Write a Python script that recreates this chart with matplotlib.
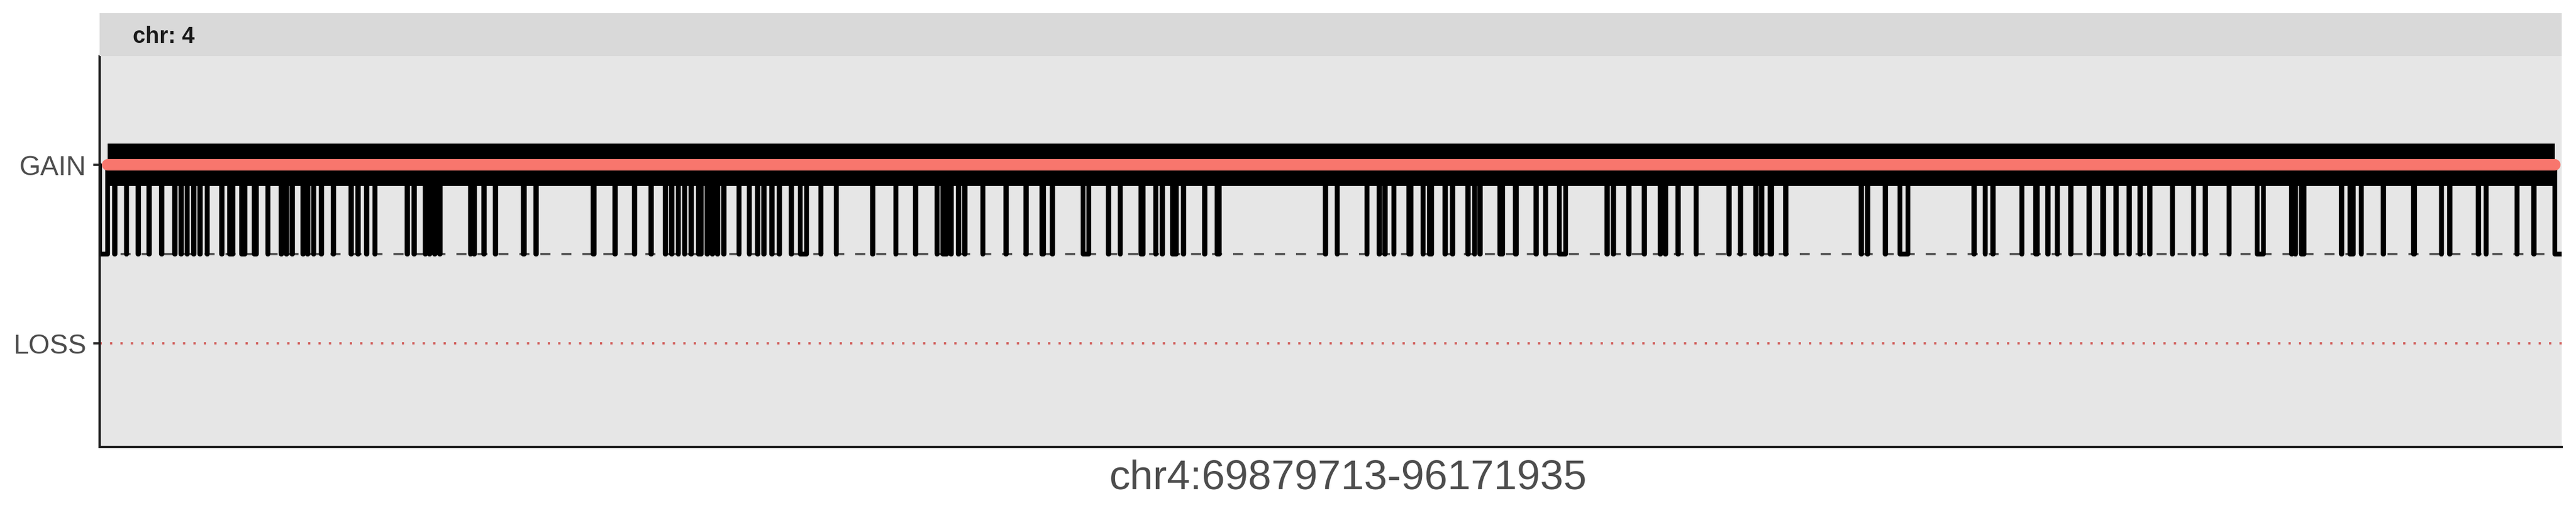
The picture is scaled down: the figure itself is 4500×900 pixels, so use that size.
import matplotlib
matplotlib.use("Agg")
import matplotlib.pyplot as plt

plt.rcParams['font.family'] = ['Liberation Sans', 'DejaVu Sans']

# region shown (bp)
region_start = 69879713
region_end = 96171935
chrom_label = "chr: 4"
region_label = "chr4:69879713-96171935"

# y categories
y_labels = ["LOSS", "GAIN"]
y_values = [1, 2]
baseline_y = 1.5

# short breaks in the GAIN call (Mb, centre), width thin_gap_kb
thin_gap_kb = 3
thin_gap_mb = [
    70.039, 70.167, 70.290, 70.406, 70.540, 70.681, 70.748, 70.815, 70.883, 70.950,
    71.029, 71.182, 71.677, 71.818, 71.873, 71.934, 72.050, 72.099, 72.166, 72.246,
    72.374, 72.564, 72.637, 72.729, 72.820, 73.163, 73.236, 73.358, 73.401, 73.456,
    73.511, 73.841, 73.878, 73.982, 74.104, 74.538, 75.382, 75.590, 75.767, 75.920,
    75.987, 76.060, 76.127, 76.195, 76.366, 76.421, 76.476, 76.543, 76.708, 76.818,
    76.904, 76.971, 77.057, 77.136, 77.265, 77.582, 77.747, 78.133, 78.383, 78.591,
    78.823, 78.970, 79.050, 79.117, 79.312, 79.557, 79.771, 80.052, 80.651, 80.779,
    81.158, 81.226, 81.452, 81.678, 82.968, 83.096, 83.414, 83.543, 83.604, 83.701,
    84.013, 84.246, 84.325, 84.490, 84.563, 84.619, 85.218, 85.321, 85.976, 86.043,
    86.208, 86.373, 86.544, 86.599, 86.734, 86.929, 87.278, 87.400, 87.565, 87.626,
    87.883, 88.690, 88.757, 88.947, 89.894, 90.016, 90.096, 90.407, 90.683, 90.786,
    90.927, 91.123, 91.410, 91.551, 91.667, 91.771, 92.015, 92.241, 92.364, 92.620,
    93.287, 93.329, 93.819, 94.032, 94.265, 94.888, 94.974, 95.280, 95.362, 95.695,
    95.873,
]

# longer breaks (start in Mb, length in kb)
wide_gap_start_mb = [
    69.8797, 71.270, 71.393, 71.533, 74.406, 75.152, 76.271, 77.365, 78.887, 79.939,
    80.379, 81.002, 81.338, 81.815, 83.863, 84.083, 84.830, 85.000, 85.471, 87.715,
    89.108, 90.551, 91.272, 92.917, 93.393, 93.913, 94.591, 96.099,
]
wide_gap_kb = [
    86, 31, 37, 24, 12, 12, 31, 67, 37, 24,
    67, 24, 43, 24, 24, 24, 31, 12, 67, 18,
    85, 24, 12, 73, 31, 31, 12, 73,
]

# build gap intervals in bp
gaps = []
for c in thin_gap_mb:
    s = c * 1e6
    gaps.append((s, s + thin_gap_kb * 1e3))
for s, k in zip(wide_gap_start_mb, wide_gap_kb):
    s = max(s * 1e6, region_start)
    gaps.append((s, min(s + k * 1e3, region_end)))
gaps.sort()

gain_y = y_values[1]
xs, ys = [region_start], [gain_y]
for s, e in gaps:
    xs += [s, s, e]
    ys += [gain_y, baseline_y, baseline_y]
    if e < region_end:
        xs.append(e)
        ys.append(gain_y)
if ys[-1] == gain_y:
    xs.append(region_end)
    ys.append(gain_y)

call_start = gaps[0][1]
call_end = gaps[-1][0]

W, H, DPI = 4500, 900, 300
fig = plt.figure(figsize=(W / DPI, H / DPI), dpi=DPI)
px_l, px_r, px_t, px_b, strip_t = 174, 4475, 98, 781, 23
ax = fig.add_axes([px_l / W, 1 - px_b / H, (px_r - px_l) / W, (px_b - px_t) / H])
ax.set_facecolor("#E6E6E6")

# reference lines
ax.axhline(baseline_y, color="#555555", lw=1.0, ls=(0, (4.2, 4.6)), zorder=1)
ax.axhline(y_values[0], color="#D2625F", lw=0.95, ls=(0, (1.0, 3.6)), zorder=2)

# step of the calls
ax.plot(xs, ys, color="black", lw=2.0, solid_joinstyle="round",
        solid_capstyle="round", zorder=2)
ax.plot([call_start, call_end], [gain_y, gain_y], color="black", lw=17.8,
        solid_capstyle="butt", zorder=3)
ax.plot([call_start, call_end], [gain_y, gain_y], color="#F8766D", lw=4.8,
        solid_capstyle="round", zorder=4)

ax.set_xlim(region_start, region_end)
ax.set_ylim(0.42, 2.61)
ax.set_xticks([])
ax.set_yticks(y_values)
ax.set_yticklabels(y_labels)
ax.tick_params(axis="y", length=2.65, width=0.95, color="#333333",
               labelcolor="#4D4D4D", labelsize=11.5, pad=2.9)
for side in ["top", "right"]:
    ax.spines[side].set_visible(False)
for side in ["left", "bottom"]:
    ax.spines[side].set_color("#1A1A1A")
    ax.spines[side].set_linewidth(0.95)

ax.text((2355 - px_l) / (px_r - px_l), -(836 - px_b) / (px_b - px_t), region_label,
        transform=ax.transAxes, ha="center", va="center", fontsize=17.5,
        color="#4D4D4D")

# facet strip
sax = fig.add_axes([px_l / W, 1 - px_t / H, (px_r - px_l) / W, (px_t - strip_t) / H])
sax.set_facecolor("#D9D9D9")
sax.set_xticks([])
sax.set_yticks([])
for sp in sax.spines.values():
    sp.set_visible(False)
sax.text((232 - px_l) / (px_r - px_l), 0.45, chrom_label, transform=sax.transAxes,
         ha="left", va="center", fontsize=9.5, fontweight="bold", color="#1A1A1A")

fig.savefig("out.png", dpi=DPI, facecolor="white")
